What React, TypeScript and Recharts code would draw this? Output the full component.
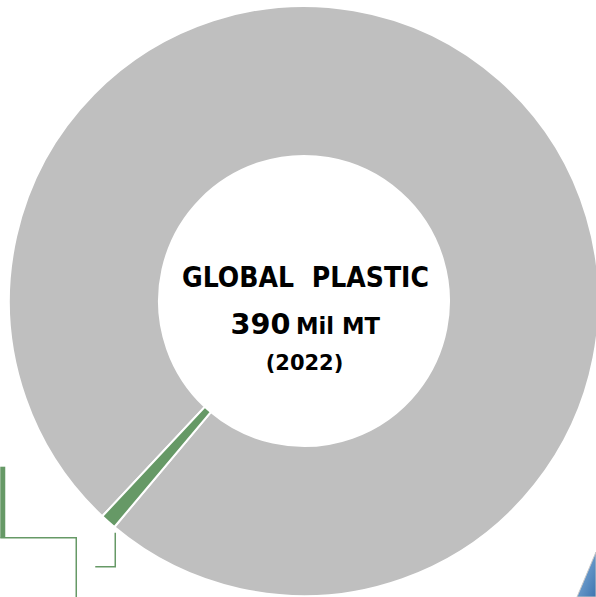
import { PieChart, Pie, Cell } from 'recharts'

// share of global plastic production (Mil MT, 2022)
const categories = ['Other plastic', 'Highlighted share']
const values = [386.6, 3.4]
const colors = ['#bfbfbf', '#669966']
const centerLines = ['GLOBAL  PLASTIC', '390', 'Mil MT', '(2022)']

const data = categories.map((name, i) => ({ name, value: values[i] }))
const RADIAN = Math.PI / 180
const FONT = "'DejaVu Sans', Verdana, sans-serif"
const LINE = '#669966'
const CX = 304
const CY = 301

// leader lines for the small slice
const renderLeader = (props: any) => {
  if (props.index !== 1) return <g />
  const { cx, cy, midAngle, outerRadius } = props
  const x = cx + outerRadius * Math.cos(-midAngle * RADIAN)
  const y = cy + outerRadius * Math.sin(-midAngle * RADIAN)
  return (
    <g fill="none" stroke={LINE}>
      <path d={`M${x + 7},${y + 11} V${y + 45} H${x - 13}`} strokeWidth={1.5} />
      <path d={`M${x - 105.5},${y - 55} V${y + 16}`} strokeWidth={5} />
      <path d={`M${x - 108},${y + 16} H${x - 32} V${y + 80}`} strokeWidth={1.5} />
    </g>
  )
}

export default function App() {
  return (
    <div style={{ position: 'absolute', left: 0, top: 0, width: 596, height: 597, background: '#fff' }}>
      <PieChart width={596} height={597} margin={{ top: 0, right: 0, bottom: 0, left: 0 }}>
        <Pie
          data={data}
          dataKey="value"
          nameKey="name"
          cx={CX}
          cy={CY}
          innerRadius={145}
          outerRadius={295}
          startAngle={230}
          endAngle={590}
          stroke="#fff"
          strokeWidth={2}
          label={renderLeader}
          labelLine={false}
          isAnimationActive={false}
        >
          {data.map((d, i) => (
            <Cell key={d.name} fill={colors[i]} />
          ))}
        </Pie>
      </PieChart>
      <svg width={596} height={597} style={{ position: 'absolute', left: 0, top: 0, pointerEvents: 'none' }}>
        <defs>
          <linearGradient id="blueShape" x1="0" y1="0" x2="1" y2="1">
            <stop offset="0" stopColor="#8db7de" />
            <stop offset="1" stopColor="#3d74b0" />
          </linearGradient>
        </defs>
        <polygon points="577,597 596,552 596,597" fill="url(#blueShape)" stroke="#c8c8c8" strokeWidth={1} />
        <g fontFamily={FONT} fontWeight={700} fill="#000">
          <text
            x={CX + 1.5}
            y={CY - 14}
            fontSize={29}
            textAnchor="middle"
            textLength={247}
            lengthAdjust="spacingAndGlyphs"
            style={{ whiteSpace: 'pre' }}
          >
            {centerLines[0]}
          </text>
          <text x={230.5} y={CY + 33} fontSize={27.5} textLength={60} lengthAdjust="spacingAndGlyphs">
            {centerLines[1]}
          </text>
          <text x={296} y={CY + 33} fontSize={23.5} textLength={84} lengthAdjust="spacingAndGlyphs">
            {centerLines[2]}
          </text>
          <text x={CX + 0.5} y={CY + 69} fontSize={21} textAnchor="middle">
            {centerLines[3]}
          </text>
        </g>
      </svg>
    </div>
  )
}
